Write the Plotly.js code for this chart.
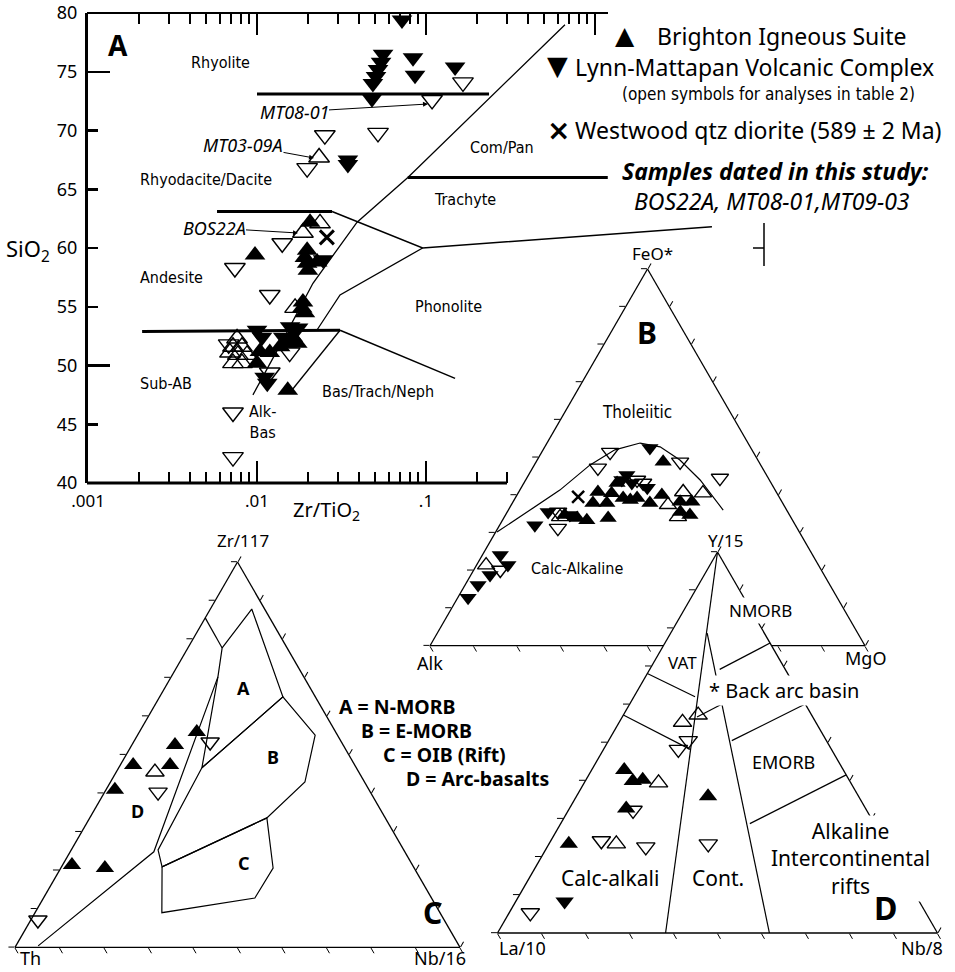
<!DOCTYPE html>
<html><head><meta charset="utf-8">
<script src="https://cdn.plot.ly/plotly-3.0.1.min.js"></script>
<style>html,body{margin:0;padding:0;background:#fff}#chart{width:955px;height:972px}</style>
</head><body><div id="chart"></div>
<script>
// ===== Panel A: SiO2 vs Zr/TiO2 =====
const aBrightonZrTi = [0.0206,0.00973,0.0198,0.0192,0.0198,0.0200,0.0227,0.0187,0.0185,0.0192,0.0163,0.0151,0.0173,0.0137,0.0104,0.0119,0.0100,0.0152];
const aBrightonSiO2 = [62.2,59.4,59.8,59.2,58.7,58.1,58.8,55.4,54.9,54.5,52.4,51.9,51.9,51.6,51.2,51.1,50.2,47.9];
const aLynnZrTi = [0.0557,0.0542,0.0520,0.0506,0.0485,0.0479,0.0838,0.0861,0.1486,0.0721,0.0345,0.0345,0.0246,0.0157,0.0175,0.0143,0.0100,0.0107,0.0111,0.0115];
const aLynnSiO2 = [76.5,75.8,75.2,74.6,74.0,72.7,76.2,74.7,75.4,79.4,67.5,67.1,59.0,53.3,53.2,52.4,53.0,52.4,49.0,48.5];
const aOpenUpZrTi = [0.0233,0.0187,0.0236,0.0168,0.00762,0.00721,0.00815,0.00692,0.0077,0.00873,0.00721,0.00815];
const aOpenUpSiO2 = [67.7,61.3,62.1,54.9,52.3,51.6,51.6,51.1,50.9,50.9,50.2,50.2];
const aOpenDownZrTi = [0.1655,0.1086,0.0252,0.0520,0.0198,0.0141,0.0074,0.0119,0.0156,0.0119,0.00721,0.00721,0.0068];
const aOpenDownSiO2 = [74.1,72.6,69.6,69.8,66.8,60.4,58.3,56.0,51.1,49.4,46.0,42.2,51.8];
const aWestwoodZrTi = [0.0259];
const aWestwoodSiO2 = [60.9];
// field boundaries (Zr/TiO2, SiO2)
const bndMainZrTi = [0.00946,0.01426,0.02143,0.0391,0.0781,0.664];
const bndMainSiO2 = [47.5,52.2,57.0,62.2,66.0,79.0];
const bndAlkBasZrTi = [0.01567,0.031];
const bndAlkBasSiO2 = [47.7,53.0];
const bndPhonZrTi = [0.0226,0.031,0.0955];
const bndPhonSiO2 = [53.0,56.0,60.0];
const bnd53hZrTi = [0.00209,0.031];
const bnd53hSiO2 = [52.9,53.0];
const bnd53dZrTi = [0.031,0.1486];
const bnd53dSiO2 = [53.0,48.9];
const bnd63hZrTi = [0.0058,0.0278];
const bnd63hSiO2 = [63.1,63.1];
const bnd63dZrTi = [0.0278,0.0955,4.92];
const bnd63dSiO2 = [63.1,60.0,61.8];
const bndRhyZrTi = [0.01,0.236];
const bndRhySiO2 = [73.1,73.1];
const bndComZrTi = [0.078,1.19];
const bndComSiO2 = [66.0,66.0];
const xMajorVals = [0.001,0.01,0.1];
const xMajorText = ['.001','.01','.1'];
const yTickVals = [40,45,50,55,60,65,70,75,80];

// ===== Panel B: AFM (FeO*, Alk, MgO) =====
const bUpFe  = [48.8,43.2,40.8,40.5,39.2,40.0,38.2,38.2,37.9,37.9,38.7,39.2,35.5,34.7,34.7,33.9,33.3,33.9,37.9];
const bUpAlk = [22.0,35.4,41.0,38.0,36.0,26.7,23.4,20.7,43.6,40.4,34.6,32.8,24.7,22.9,51.7,49.2,47.3,42.1,30.5];
const bUpMg  = [29.2,21.4,18.2,21.5,24.8,33.3,38.4,41.1,18.5,21.7,26.7,28.0,39.8,42.4,13.6,16.9,19.4,24.0,31.6];
const bDownFe  = [52.5,45.3,44.0,43.2,41.9,35.5,34.7,32.0,24.1,21.4,18.8,16.1,12.7];
const bDownAlk = [23.2,32.1,33.9,32.0,29.1,55.1,50.5,59.9,71.8,71.4,76.8,80.9,84.9];
const bDownMg  = [24.3,22.6,22.1,24.8,29.0,9.4,14.8,8.1,4.1,7.2,4.4,3.0,2.4];
const bOpenUpFe  = [40.8,40.5,37.4,34.2,34.2,21.4];
const bOpenUpAlk = [21.4,17.0,26.6,25.9,53.0,76.4];
const bOpenUpMg  = [37.8,42.5,36.0,39.9,12.8,2.2];
const bOpenDownFe  = [51.4,48.8,47.2,44.5,44.0,43.2,35.5,31.2,20.1];
const bOpenDownAlk = [32.9,18.1,37.8,11.1,30.4,29.4,52.8,55.0,73.8];
const bOpenDownMg  = [15.7,33.1,15.0,44.4,25.6,27.4,11.7,13.8,6.1];
const bWestFe = [39.5], bWestAlk = [46.2], bWestMg = [14.3];
const bCurveFe  = [30.2,36.0,41.3,48.0,52.0,53.8,52.8,49.3,44.0,36.0];
const bCurveAlk = [69.5,59.0,49.5,39.2,31.5,24.8,20.7,17.9,15.9,14.6];
const bCurveMg  = [0.3,5.0,9.2,12.8,16.5,21.4,26.5,32.8,40.1,49.4];

// ===== Panel C: Zr/117 - Th - Nb/16 =====
const cUpZr = [55.9,52.5,47.3,47.3,40.9,21.4,20.6];
const cUpTh = [31.2,37.8,41.5,49.8,57.1,76.5,69.5];
const cUpNb = [12.9,9.7,11.2,2.9,2.0,2.1,9.9];
const cOpenDownZr = [53.3,40.3,7.1];
const cOpenDownTh = [29.5,47.7,91.3];
const cOpenDownNb = [17.2,12.0,1.6];
const cOpenUpZr = [45.5], cOpenUpTh = [45.8], cOpenUpNb = [8.7];
// field polygons
const cFieldAZr = [77.7,87.8,65.0,46.6,70.2,77.7];
const cFieldATh = [14.6,2.9,7.3,34.7,19.3,14.6];
const cFieldANb = [7.7,9.3,27.7,18.7,10.5,7.7];
const cLeftZr = [85.5,77.7], cLeftTh = [14.5,14.6], cLeftNb = [0,7.7];
const cFieldDZr = [70.2,24.8,0.4], cFieldDTh = [19.3,56.4,94.6], cFieldDNb = [10.5,18.8,5.0];
const cFieldBZr = [46.6,65.0,55.1,42.9,33.6,20.9,25.3,46.6];
const cFieldBTh = [34.7,7.3,5.0,13.4,26.6,56.5,55.2,34.7];
const cFieldBNb = [18.7,27.7,39.9,43.7,39.8,22.6,19.5,18.7];
const cFieldCZr = [20.9,33.6,20.6,12.8,9.0,20.9];
const cFieldCTh = [56.5,26.6,31.7,39.7,62.5,56.5];
const cFieldCNb = [22.6,39.8,47.7,47.5,28.5,22.6];

// ===== Panel D: Y/15 - La/10 - Nb/8 =====
const dUpY  = [42.8,39.9,40.2,32.7,23.4,35.9];
const dUpLa = [49.8,49.3,46.9,54.4,72.1,34.2];
const dUpNb = [7.4,10.8,12.9,12.9,4.5,29.9];
const dOpenUpY  = [55.3,57.2,39.4,23.4];
const dOpenUpLa = [30.3,25.8,43.7,61.3];
const dOpenUpNb = [14.4,17.0,16.9,15.3];
const dOpenDownY  = [50.5,48.2,32.2,24.2,22.6,23.4,5.3];
const dOpenDownLa = [31.4,34.8,53.1,64.3,55.0,40.4,89.9];
const dOpenDownNb = [18.1,17.0,14.7,11.5,22.4,36.2,4.8];
const dDownY = [8.3], dDownLa = [80.6], dDownNb = [11.1];
const dBoundaries = [
  {Y:[100,0],   La:[0,61.8],    Nb:[0,38.2]},
  {Y:[78.7,0],  La:[13.0,38.2], Nb:[8.3,61.8]},
  {Y:[69.2,76.1], La:[14.9,0],  Nb:[15.9,23.9]},
  {Y:[68.1,62.0], La:[31.9,24.1], Nb:[0,13.9]},
  {Y:[57.2,48.2], La:[42.8,32.1], Nb:[0,19.7]},
  {Y:[56.7,60.1], La:[26.3,18.9], Nb:[17.0,21.0]},
  {Y:[50.5,60.1], La:[21.5,0],  Nb:[28.0,39.9]},
  {Y:[28.7,41.5], La:[28.3,0],  Nb:[43.0,58.5]}
];

// ===== helpers / styles =====
const W = 955, H = 972;
const F = "Noto Sans, Open Sans, DejaVu Sans, sans-serif";
const FN = "Liberation Sans Narrow, DejaVu Sans Condensed, Roboto Condensed, Noto Sans, sans-serif";
const px = v => v / W, py = v => 1 - v / H;
const blk = '#000';
function mk(sym, size, open){ return open ? {symbol: sym+'-open', size: size, color: blk, line:{color: blk, width:1.4}} : {symbol: sym, size: size, color: blk, line:{width:0}}; }

const traces = [];
// empty traces so the overlaid tick-only axes get drawn
[['x2','y'],['x3','y'],['x4','y'],['x','y2']].forEach(p => traces.push({type:'scatter', x:[], y:[], xaxis:p[0], yaxis:p[1], mode:'markers', hoverinfo:'skip'}));
function cline(x, y, w){ traces.push({type:'scatter', x:x, y:y, mode:'lines', line:{color:blk, width:w}, hoverinfo:'skip', xaxis:'x', yaxis:'y'}); }
cline(bndMainZrTi, bndMainSiO2, 1.3);
cline(bndAlkBasZrTi, bndAlkBasSiO2, 1.3);
cline(bndPhonZrTi, bndPhonSiO2, 1.3);
cline(bnd53hZrTi, bnd53hSiO2, 3);
cline(bnd53dZrTi, bnd53dSiO2, 1.5);
cline(bnd63hZrTi, bnd63hSiO2, 3);
cline(bnd63dZrTi, bnd63dSiO2, 1.5);
cline(bndRhyZrTi, bndRhySiO2, 3);
cline(bndComZrTi, bndComSiO2, 3);
function cpts(x, y, m){ traces.push({type:'scatter', x:x, y:y, mode:'markers', marker:m, cliponaxis:false, hoverinfo:'skip', xaxis:'x', yaxis:'y'}); }
cpts(aOpenUpZrTi, aOpenUpSiO2, mk('triangle-up', 18, true));
cpts(aOpenDownZrTi, aOpenDownSiO2, mk('triangle-down', 18, true));
cpts(aBrightonZrTi, aBrightonSiO2, mk('triangle-up', 18, false));
cpts(aLynnZrTi, aLynnSiO2, mk('triangle-down', 18, false));
cpts(aWestwoodZrTi, aWestwoodSiO2, {symbol:'x-thin-open', size:14, color:blk, line:{color:blk, width:3}});

function tline(sub, a, b, c, w){ traces.push({type:'scatterternary', subplot:sub, a:a, b:b, c:c, mode:'lines', line:{color:blk, width:w}, hoverinfo:'skip'}); }
function tpts(sub, a, b, c, m){ traces.push({type:'scatterternary', subplot:sub, a:a, b:b, c:c, mode:'markers', marker:m, cliponaxis:false, hoverinfo:'skip'}); }
// B
tline('ternary', bCurveFe, bCurveAlk, bCurveMg, 1.2);
tpts('ternary', bOpenUpFe, bOpenUpAlk, bOpenUpMg, mk('triangle-up', 15, true));
tpts('ternary', bOpenDownFe, bOpenDownAlk, bOpenDownMg, mk('triangle-down', 15, true));
tpts('ternary', bUpFe, bUpAlk, bUpMg, mk('triangle-up', 15, false));
tpts('ternary', bDownFe, bDownAlk, bDownMg, mk('triangle-down', 15, false));
tpts('ternary', bWestFe, bWestAlk, bWestMg, {symbol:'x-thin-open', size:12, color:blk, line:{color:blk, width:2.5}});
// C
tline('ternary2', cFieldAZr, cFieldATh, cFieldANb, 1.2);
tline('ternary2', cLeftZr, cLeftTh, cLeftNb, 1.2);
tline('ternary2', cFieldDZr, cFieldDTh, cFieldDNb, 1.2);
tline('ternary2', cFieldBZr, cFieldBTh, cFieldBNb, 1.2);
tline('ternary2', cFieldCZr, cFieldCTh, cFieldCNb, 1.2);
tpts('ternary2', cOpenDownZr, cOpenDownTh, cOpenDownNb, mk('triangle-down', 16, true));
tpts('ternary2', cOpenUpZr, cOpenUpTh, cOpenUpNb, mk('triangle-up', 16, true));
tpts('ternary2', cUpZr, cUpTh, cUpNb, mk('triangle-up', 16, false));
// D
dBoundaries.forEach(s => tline('ternary3', s.Y, s.La, s.Nb, 1.2));
tpts('ternary3', dOpenUpY, dOpenUpLa, dOpenUpNb, mk('triangle-up', 16, true));
tpts('ternary3', dOpenDownY, dOpenDownLa, dOpenDownNb, mk('triangle-down', 16, true));
tpts('ternary3', dUpY, dUpLa, dUpNb, mk('triangle-up', 16, false));
tpts('ternary3', dDownY, dDownLa, dDownNb, mk('triangle-down', 16, false));

const tax = {showgrid:false, showticklabels:false, ticks:'outside', ticklen:6, tickwidth:1, tickcolor:blk, linecolor:blk, linewidth:1.3, dtick:10, title:{text:''}};
function tern(x0, x1, y0, y1, bg){ return {domain:{x:[px(x0), px(x1)], y:[py(y1), py(y0)]}, sum:100, bgcolor:bg, aaxis:tax, baxis:tax, caxis:tax}; }

const minorVals = [];
[0.001,0.01,0.1].forEach(d => { for (let k=2;k<=9;k++) minorVals.push(+(d*k).toPrecision(3)); });
const minorBottom = minorVals.filter(v => v <= 0.3);

const xdom = [px(88), px(764)], ydom = [py(483), py(13)];
const baseX = {type:'log', range:[-3,1], domain:xdom, showgrid:false, zeroline:false, showline:false, tickcolor:blk};

const ann = [];
function T(text, x, y, size, o){ ann.push(Object.assign({text:text, x:px(x), y:py(y), xref:'paper', yref:'paper', showarrow:false, borderpad:0, font:{family:F, size:size, color:blk}, xanchor:'center', yanchor:'middle'}, o||{})); }
function TN(text, x, y, size, o){ T(text, x, y, size, Object.assign({font:{family:FN, size:size, color:blk}}, o||{})); }
// labelled arrow: text centred at (lx,ly), arrow head at (hx,hy)
function TA(text, lx, ly, hx, hy, size){ ann.push({text:text, x:px(hx), y:py(hy), xref:'paper', yref:'paper', showarrow:true, ax:lx-hx, ay:ly-hy, arrowhead:2, arrowsize:1, arrowwidth:1, arrowcolor:blk, standoff:0, borderpad:0, font:{family:F, size:size, color:blk}}); }
// panel A texts
T('<b>A</b>', 118, 45, 28);
TN('Rhyolite', 220, 63, 16);
TA('<i>MT08-01</i>', 294, 112, 428, 104, 18);
TA('<i>MT03-09A</i>', 243, 145, 314, 158, 18);
TN('Rhyodacite/Dacite', 206, 180, 16);
TA('<i>BOS22A</i>', 214, 228, 298, 233, 18);
TN('Andesite', 171, 277, 16);
TN('Sub-AB', 166, 383, 16);
TN('Alk-<br>Bas', 262, 422, 16);
TN('Com/Pan', 502, 148, 16);
TN('Trachyte', 465, 200, 16);
TN('Phonolite', 448, 307, 16);
TN('Bas/Trach/Neph', 378, 392, 16);
T('SiO<sub>2</sub>', 28, 250, 22);
T('Zr/TiO<sub>2</sub>', 326, 510, 20);
// legend
T('▲', 625, 36, 24, {font:{family:'DejaVu Sans', size:25, color:blk}});
T('Brighton Igneous Suite', 656, 36, 23, {xanchor:'left'});
T('▼', 557, 66, 26, {font:{family:'DejaVu Sans', size:27, color:blk}});
T('Lynn-Mattapan Volcanic Complex', 574, 67, 23, {xanchor:'left'});
TN('(open symbols for analyses in table 2)', 768, 94, 17);
T('<b>×</b>', 558, 130, 26, {font:{family:'DejaVu Sans', size:28, color:blk}});
T('Westwood qtz diorite (589 ± 2 Ma)', 574, 130, 23, {xanchor:'left'});
T('<b><i>Samples dated in this study:</i></b>', 775, 171.5, 23);
T('<i>BOS22A, MT08-01,MT09-03</i>', 772, 201.5, 23);
// panel B
T('FeO*', 652, 253, 17);
T('<b>B</b>', 647, 332, 30);
TN('Tholeiitic', 637, 412, 17);
TN('Calc-Alkaline', 577, 568, 16);
T('Alk', 430, 663, 18);
T('MgO', 865, 658, 18);
// panel C
T('Zr/117', 243, 540, 17);
T('Th', 30, 958, 18);
T('Nb/16', 440, 958, 18);
T('<b>A</b>', 243, 688, 18);
T('<b>B</b>', 273, 757, 18);
T('<b>C</b>', 244, 863, 18);
T('<b>D</b>', 137, 811, 18);
T('<b>C</b>', 432, 912, 30);
T('<b>A = N-MORB</b>', 338, 706, 19.5, {xanchor:'left'});
T('<b>B = E-MORB</b>', 360, 730, 19.5, {xanchor:'left'});
T('<b>C = OIB (Rift)</b>', 382, 754, 19.5, {xanchor:'left'});
T('<b>D = Arc-basalts</b>', 405, 778, 19.5, {xanchor:'left'});
// panel D
T('Y/15', 725, 540, 17);
T('La/10', 522, 948, 18);
T('Nb/8', 922, 948, 18);
T('NMORB', 760, 610, 17, {bgcolor:'#fff', borderpad:1});
T('VAT', 682, 662, 17);
T('* Back arc basin', 707, 690, 20, {xanchor:'left', bgcolor:'#fff', borderpad:1});
T('EMORB', 783, 762, 18);
T('Alkaline<br>Intercontinental<br>rifts', 850, 858, 21, {bgcolor:'#fff', borderpad:1});
T('Calc-alkali', 610, 878, 21);
T('Cont.', 718, 878, 21);
T('<b>D</b>', 885, 907, 32);

const shapes = [
  {type:'line', xref:'paper', yref:'paper', x0:px(87), x1:px(507), y0:py(483), y1:py(483), line:{color:blk, width:3}},
  {type:'line', xref:'paper', yref:'paper', x0:px(87), x1:px(608), y0:py(13), y1:py(13), line:{color:blk, width:2}},
  {type:'line', xref:'paper', yref:'paper', x0:px(764), x1:px(764), y0:py(223), y1:py(266), line:{color:blk, width:1.5}},
  {type:'line', xref:'paper', yref:'paper', x0:px(753), x1:px(764), y0:py(248), y1:py(248), line:{color:blk, width:1.5}}
];

const layout = {
  width:W, height:H, margin:{l:0, r:0, t:0, b:0}, paper_bgcolor:'#fff', plot_bgcolor:'rgba(0,0,0,0)', showlegend:false,
  xaxis: Object.assign({}, baseX, {anchor:'y', side:'bottom', ticks:'inside', ticklen:22, tickwidth:2, tickvals:xMajorVals, ticktext:xMajorText, tickfont:{family:F, size:17, color:blk}, ticklabelstandoff:6}),
  xaxis2: Object.assign({}, baseX, {overlaying:'x', anchor:'y', side:'top', ticks:'inside', ticklen:22, tickwidth:2, tickvals:[0.001,0.01,0.1,1], showticklabels:false}),
  xaxis3: Object.assign({}, baseX, {overlaying:'x', anchor:'y', side:'bottom', ticks:'inside', ticklen:11, tickwidth:2, tickvals:minorBottom, showticklabels:false}),
  xaxis4: Object.assign({}, baseX, {overlaying:'x', anchor:'y', side:'top', ticks:'inside', ticklen:11, tickwidth:2, tickvals:minorVals, showticklabels:false}),
  yaxis: {range:[40,80], domain:ydom, anchor:'x', showgrid:false, zeroline:false, showline:true, linecolor:blk, linewidth:3, ticks:'inside', ticklen:10, tickwidth:2.5, tickcolor:blk, tickvals:yTickVals, tickfont:{family:F, size:18, color:blk}, ticklabelstandoff:4},
  yaxis2: {range:[40,80], domain:ydom, overlaying:'y', anchor:'x', side:'left', showgrid:false, zeroline:false, showline:false, ticks:'inside', ticklen:22, tickwidth:2.5, tickcolor:blk, tickvals:[50,75], showticklabels:false},
  ternary: tern(430, 865, 269, 645.7, 'rgba(0,0,0,0)'),
  ternary2: tern(15, 460, 562, 947.4, 'rgba(0,0,0,0)'),
  ternary3: tern(497.5, 937.5, 552, 933, '#fff'),
  annotations: ann,
  shapes: shapes
};
Plotly.newPlot('chart', traces, layout, {staticPlot:true, displayModeBar:false});
</script></body></html>
